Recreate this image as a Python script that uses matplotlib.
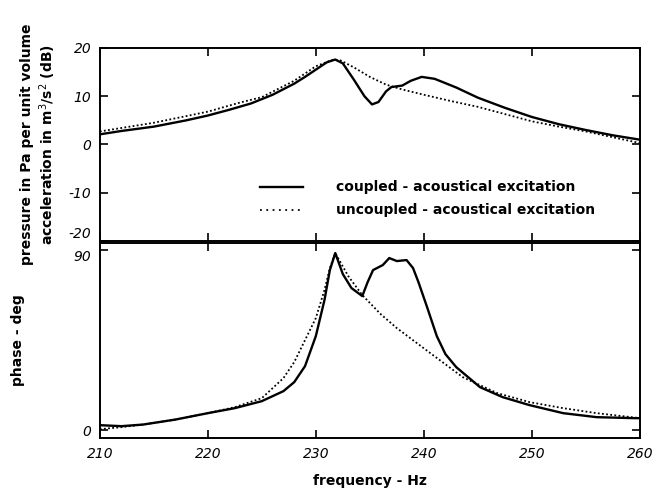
import matplotlib.pyplot as plt

# datos
f_cp = [210, 212, 215, 218, 220, 222, 224, 226, 228, 229, 230, 231, 231.8, 232.5, 233.5,
        234.5, 235.2, 235.8, 236.5, 237, 238, 238.8, 239.8, 241, 243, 245, 247.5, 250,
        252.5, 255, 257.5, 260]
p_cp = [2.1, 2.8, 3.7, 5.0, 6.0, 7.2, 8.5, 10.3, 12.6, 14.0, 15.5, 17.0, 17.6, 16.8, 13.5,
        10.0, 8.3, 8.8, 11.0, 11.9, 12.2, 13.2, 14.0, 13.6, 11.8, 9.7, 7.6, 5.7,
        4.2, 3.0, 1.9, 1.0]

f_un = [210, 215, 220, 223, 225, 228, 230, 231.5, 232.3, 233.5, 235, 236.5, 238, 240,
        242.5, 245, 247.5, 250, 252.5, 255, 257.5, 260]
p_un = [2.7, 4.5, 6.8, 8.7, 9.8, 13.2, 16.2, 17.5, 17.4, 16.0, 14.0, 12.4, 11.4, 10.3,
        9.0, 7.8, 6.3, 4.8, 3.7, 2.7, 1.5, 0.3]

fph_cp = [210, 212, 214, 217, 220, 222.5, 225, 227, 228, 229, 230, 230.8, 231.3, 231.8,
          232.5, 233.3, 234.3, 234.8, 235.3, 236.2, 236.8, 237.5, 238.4, 239, 239.5, 240.3,
          241.2, 242, 243, 245.2, 247.3, 249.8, 252.9, 256, 259.5, 260]
ph_cp = [2.5, 2.0, 2.8, 5.3, 8.5, 11, 14.5, 19.5, 24, 32, 47, 65, 80, 88.5,
         78, 71, 67, 74, 80, 82.5, 86, 84.5, 85, 81, 74, 61.5,
         47, 38, 31.5, 21.5, 16.5, 12.5, 8.5, 6.5, 6, 6]

fph_un = [210, 212, 214, 217, 220, 222.5, 225, 227, 228, 229, 230, 230.8, 231.3, 231.8,
          233, 234.3, 236, 237.5, 240.6, 243.6, 246.8, 249.8, 252.9, 256, 260]
ph_un = [0.5, 1.5, 2.8, 5.3, 8.5, 11.5, 16, 26, 34, 45, 56, 70, 81, 88.5,
         77, 67.5, 58, 51, 38.5, 26.5, 18.5, 14, 11, 8.5, 6]

xticks = [210, 220, 230, 240, 250, 260]

fig = plt.figure(figsize=(6.61, 4.94), dpi=100)
ax1 = fig.add_axes([0.151, 0.512, 0.817, 0.391])
ax2 = fig.add_axes([0.151, 0.113, 0.817, 0.395])

tick_font = {'style': 'italic', 'size': 10}

# amplitud
ax1.plot(f_cp, p_cp, color='k', lw=1.7)
ax1.plot(f_un, p_un, color='k', lw=1.3, ls=(0, (1, 1.3)))
ax1.set_xlim(210, 260)
ax1.set_ylim(-20, 20)
ax1.set_xticks(xticks)
ax1.set_xticklabels([])
ax1.set_yticks([-20, -10, 0, 10, 20])
ax1.set_yticklabels(['-20', '-10', '0', '10', '20'], fontdict=tick_font)
ax1.get_yticklabels()[0].set_va('bottom')
ax1.set_ylabel('pressure in Pa per unit volume\nacceleration in m$^3$/s$^2$ (dB)',
               fontweight='bold', fontsize=10, labelpad=8)

# leyenda a mano
ax1.plot([224.8, 228.8], [-8.7, -8.7], color='k', lw=1.7)
ax1.plot([224.8, 228.8], [-13.5, -13.5], color='k', lw=1.3, ls=(0, (1, 2.5)))
ax1.text(231.9, -8.7, 'coupled - acoustical excitation', fontweight='bold', fontsize=10,
         va='center')
ax1.text(231.9, -13.5, 'uncoupled - acoustical excitation', fontweight='bold', fontsize=10,
         va='center')

# fase
ax2.plot(fph_cp, ph_cp, color='k', lw=1.7)
ax2.plot(fph_un, ph_un, color='k', lw=1.3, ls=(0, (1, 1.3)))
ax2.set_xlim(210, 260)
ax2.set_ylim(-4, 93.5)
ax2.set_xticks(xticks)
ax2.set_xticklabels([str(t) for t in xticks], fontdict=tick_font)
ax2.set_yticks([0, 90])
ax2.set_yticklabels(['0', '90'], fontdict=tick_font)
ax2.get_yticklabels()[1].set_va('top')
ax2.set_ylabel('phase - deg', fontweight='bold', fontsize=10, labelpad=35)
ax2.set_xlabel('frequency - Hz', fontweight='bold', fontsize=10, labelpad=10)

for ax in (ax1, ax2):
    ax.tick_params(direction='in', top=True, right=True, length=6, width=1.2, pad=6)
    for s in ax.spines.values():
        s.set_linewidth(1.4)

fig.savefig('out.png', dpi=100)
